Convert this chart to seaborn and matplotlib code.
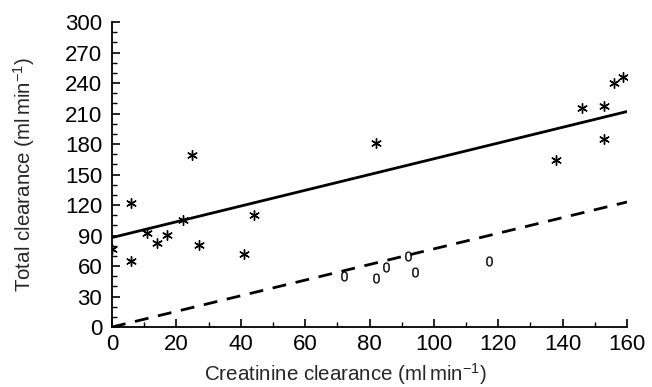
import numpy as np
import pandas as pd
import matplotlib
matplotlib.use("Agg")
import matplotlib.pyplot as plt
import seaborn as sns
from matplotlib.ticker import MultipleLocator

# Data
star_x = [0, 6, 6, 11, 14, 17, 22, 25, 27, 41, 44, 82, 138, 146, 153, 153, 156, 158.6]
star_y = [77, 122, 65, 92, 83, 91, 105, 169, 81, 72, 110, 181, 164, 215, 217, 185, 240, 246]
zero_x = [72, 82, 85, 92, 94, 117]
zero_y = [50, 48, 59, 70, 54, 65]
solid_x = [0, 160]
solid_y = [88, 212]
dash_x = [0, 160]
dash_y = [0, 123]

x_ticks = [0, 20, 40, 60, 80, 100, 120, 140, 160]
y_ticks = [0, 30, 60, 90, 120, 150, 180, 210, 240, 270, 300]

sns.set_style("ticks")
plt.rcParams['font.family'] = ['Liberation Sans', 'DejaVu Sans']
plt.rcParams['mathtext.fontset'] = 'custom'
plt.rcParams['mathtext.rm'] = 'Liberation Sans'
plt.rcParams['mathtext.it'] = 'Liberation Sans:italic'
plt.rcParams['mathtext.bf'] = 'Liberation Sans:bold'

fig = plt.figure(figsize=(6.52, 3.87), dpi=100)
ax = fig.add_axes([0.1718, 0.155, 0.7899, 0.788])

df_star = pd.DataFrame({"x": star_x, "y": star_y})
df_zero = pd.DataFrame({"x": zero_x, "y": zero_y})
df_solid = pd.DataFrame({"x": solid_x, "y": solid_y})
df_dash = pd.DataFrame({"x": dash_x, "y": dash_y})

sns.lineplot(data=df_solid, x="x", y="y", ax=ax, color="black", lw=2.0)
sns.lineplot(data=df_dash, x="x", y="y", ax=ax, color="black", lw=2.0)
ax.lines[-1].set_dashes([5, 3.5])
sns.scatterplot(data=df_star, x="x", y="y", ax=ax, marker=(6, 2, 0), s=48,
                color="black", linewidth=1.0, edgecolor="black", zorder=5)
sns.scatterplot(data=df_zero, x="x", y="y", ax=ax, marker="$0$", s=50,
                color="black", edgecolor="black", linewidth=0.2, zorder=5)

ax.set_xlim(0, 160)
ax.set_ylim(0, 300)
ax.set_xticks(x_ticks)
ax.set_yticks(y_ticks)
ax.xaxis.set_minor_locator(MultipleLocator(10))
ax.yaxis.set_minor_locator(MultipleLocator(10))
ax.tick_params(axis="both", which="major", direction="in", length=6, width=1.2,
               labelsize=16, color="black", labelcolor="black")
ax.tick_params(axis="x", which="major", pad=5)
ax.tick_params(axis="y", which="major", pad=7)
ax.tick_params(axis="both", which="minor", direction="in", length=3.5, width=1.0,
               color="black")
for s in ["top", "right"]:
    ax.spines[s].set_visible(False)
for s in ["left", "bottom"]:
    ax.spines[s].set_linewidth(1.3)
    ax.spines[s].set_color("black")

ax.set_xlabel(r"Creatinine clearance (ml$\,$min$^{-1}$)", fontsize=14.8)
ax.set_ylabel(r"Total clearance (ml$\,$min$^{-1}$)", fontsize=14.8)
ax.xaxis.set_label_coords(0.453, -0.113)
ax.yaxis.set_label_coords(-0.146, 0.5)

fig.savefig("out.png", dpi=100)
